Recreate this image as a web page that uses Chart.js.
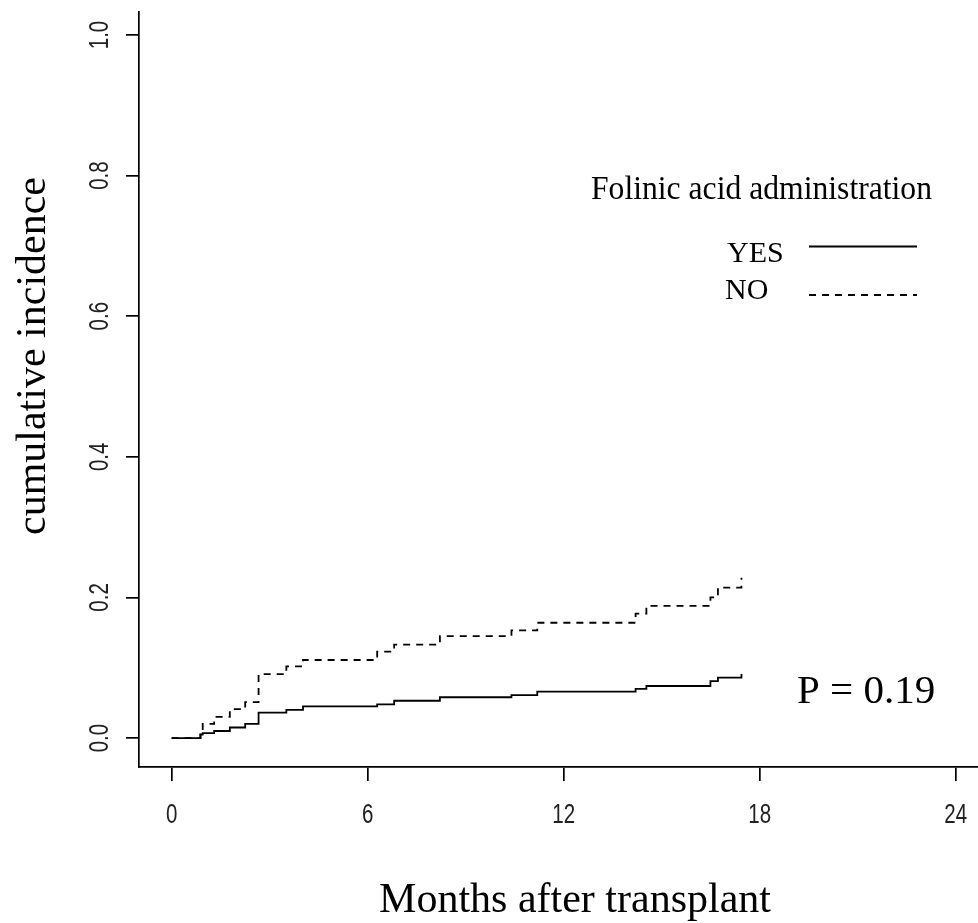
<!DOCTYPE html>
<html>
<head>
<meta charset="utf-8">
<script src="https://cdn.jsdelivr.net/npm/chart.js@4.4.1/dist/chart.umd.min.js"></script>
<style>
  html, body { margin: 0; padding: 0; background: #fff; overflow: hidden; }
  canvas { display: block; }
</style>
</head>
<body>
<canvas id="incChart" width="978" height="923"></canvas>
<script>
// ===== Data =====
const months = [0, 0.88, 0.95, 1.3, 1.78, 2.25, 2.66, 3.51, 4.02, 6.29, 6.81, 8.21, 10.4, 11.19, 14.2, 14.53, 16.49, 16.72, 17.44];
const yesValues = [0, 0.005, 0.007, 0.010, 0.015, 0.020, 0.036, 0.040, 0.045, 0.048, 0.053, 0.058, 0.061, 0.066, 0.070, 0.074, 0.081, 0.086, 0.091];
const noValues = [0, 0.010, 0.020, 0.030, 0.041, 0.051, 0.091, 0.102, 0.111, 0.123, 0.133, 0.145, 0.153, 0.164, 0.177, 0.188, 0.200, 0.214, 0.228];
const xTickValues = [0, 6, 12, 18, 24];
const xTickLabels = ['0', '6', '12', '18', '24'];
const yTickValues = [0, 0.2, 0.4, 0.6, 0.8, 1.0];
const yTickLabels = ['0.0', '0.2', '0.4', '0.6', '0.8', '1.0'];
const seriesNames = ['YES', 'NO'];

const toPoints = (xs, ys) => xs.map((x, i) => ({ x: x, y: ys[i] }));

// ===== Text helper =====
function put(ctx, text, x, y, font, align, sx, rot, color) {
  ctx.save();
  ctx.translate(x, y);
  if (rot) ctx.rotate(rot);
  ctx.scale(sx || 1, 1);
  ctx.font = font;
  ctx.textAlign = align;
  ctx.textBaseline = 'alphabetic';
  ctx.fillStyle = color || '#000';
  ctx.fillText(text, 0, 0);
  ctx.restore();
}

// ===== Labels, legend and annotation =====
const decorations = {
  id: 'decorations',
  afterDraw(chart) {
    const ctx = chart.ctx;
    const xs = chart.scales.x, ys = chart.scales.y;
    const tickFont = '27px "Liberation Sans"';
    const serif = '"Liberation Serif"';

    xs.ticks.forEach((t, i) => {
      put(ctx, xTickLabels[i], xs.getPixelForValue(t.value), 823, tickFont, 'center', 0.76, 0, '#222');
    });
    ys.ticks.forEach((t, i) => {
      put(ctx, yTickLabels[i], 108, ys.getPixelForValue(t.value), tickFont, 'center', 0.76, -Math.PI / 2, '#222');
    });

    // axis titles
    put(ctx, 'Months after transplant', 575, 912, '42px ' + serif, 'center');
    put(ctx, 'cumulative incidence', 45, 356, '42px ' + serif, 'center', 1, -Math.PI / 2);

    // legend
    ctx.save();
    ctx.font = '33px ' + serif;
    const w = ctx.measureText('Folinic acid administration').width;
    ctx.restore();
    put(ctx, 'Folinic acid administration', 591, 199, '33px ' + serif, 'left', 341 / w);

    const legendY = [246.5, 295];
    const textY = [261.7, 299.3];
    const textX = [727, 725];
    chart.data.datasets.forEach((ds, i) => {
      put(ctx, seriesNames[i], textX[i], textY[i], '30px ' + serif, 'left');
      ctx.save();
      ctx.strokeStyle = ds.borderColor;
      ctx.lineWidth = ds.borderWidth;
      ctx.setLineDash(ds.borderDash || []);
      ctx.beginPath();
      ctx.moveTo(809, legendY[i]);
      ctx.lineTo(917, legendY[i]);
      ctx.stroke();
      ctx.restore();
    });

    put(ctx, 'P = 0.19', 797, 703, '41px ' + serif, 'left');
  }
};

// ===== Chart =====
const axisStyle = {
  grid: { display: true, drawOnChartArea: false, drawTicks: true, color: '#000', lineWidth: 1.7 },
  border: { display: true, color: '#000', width: 1.7 },
  ticks: { display: false }
};

new Chart(document.getElementById('incChart'), {
  type: 'line',
  data: {
    datasets: [
      {
        label: seriesNames[0],
        data: toPoints(months, yesValues),
        borderColor: '#000',
        borderWidth: 1.8,
        stepped: 'before',
        pointRadius: 0,
        fill: false
      },
      {
        label: seriesNames[1],
        data: toPoints(months, noValues),
        borderColor: '#000',
        borderWidth: 1.8,
        borderDash: [7, 6],
        stepped: 'before',
        pointRadius: 0,
        fill: false
      }
    ]
  },
  options: {
    responsive: false,
    animation: false,
    events: [],
    layout: { padding: { top: 12, right: 0, left: 0, bottom: 0 } },
    plugins: { legend: { display: false }, tooltip: { enabled: false } },
    scales: {
      x: {
        type: 'linear',
        min: -1.0,
        max: 24.68,
        ...axisStyle,
        grid: { ...axisStyle.grid, tickLength: 14 },
        afterBuildTicks: s => { s.ticks = xTickValues.map(v => ({ value: v })); },
        afterFit: s => { s.height = 156; }
      },
      y: {
        type: 'linear',
        min: -0.0412,
        max: 1.0327,
        ...axisStyle,
        grid: { ...axisStyle.grid, tickLength: 13 },
        afterBuildTicks: s => { s.ticks = yTickValues.map(v => ({ value: v })); },
        afterFit: s => { s.width = 139; }
      }
    }
  },
  plugins: [decorations]
});
</script>
</body>
</html>
